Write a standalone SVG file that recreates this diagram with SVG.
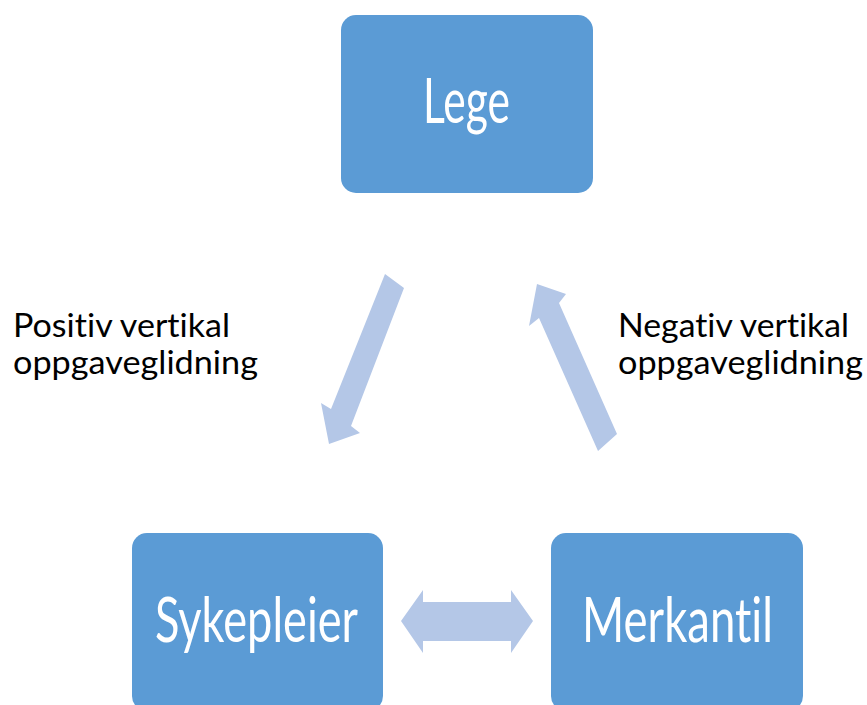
<svg xmlns="http://www.w3.org/2000/svg" width="867" height="705" viewBox="0 0 867 705">
<style>
.box{fill:#5B9BD5;}
.bt{font-family:Lato,"Open Sans","Liberation Sans",sans-serif;font-size:61px;fill:#FFFFFF;text-anchor:middle;font-variant-ligatures:none;}
.lbl{font-family:Lato,"Open Sans","Liberation Sans",sans-serif;font-size:33px;fill:#000000;font-variant-ligatures:none;}
.arr{fill:#B4C7E7;}
</style>
<rect width="867" height="705" fill="#FFFFFF"/>
<g id="lege">
<rect class="box" x="341" y="15" width="252" height="178" rx="15" ry="15"/>
<text class="bt" x="466.5" y="123" textLength="87" lengthAdjust="spacingAndGlyphs">Lege</text>
</g>
<g id="sykepleier">
<rect class="box" x="132" y="533" width="251" height="178" rx="15" ry="15"/>
<text class="bt" x="256.5" y="642" textLength="203" lengthAdjust="spacingAndGlyphs">Sykepleier</text>
</g>
<g id="merkantil">
<rect class="box" x="551" y="533" width="252" height="178" rx="15" ry="15"/>
<text class="bt" x="677.5" y="642" textLength="191" lengthAdjust="spacingAndGlyphs">Merkantil</text>
</g>
<g id="connectors">
<polygon class="arr" points="385,274 404,288 351,426 360,433 329,444 321,403 331,409"/>
<polygon class="arr" points="537,284 566,294 559,303 617,434 598,451 539,318 529,326"/>
<polygon class="arr" points="401,621 423,590 423,602 511,602 511,590 533,621 511,653 511,641 423,641 423,653"/>
</g>
<g id="labels">
<text class="lbl" x="13" y="337" textLength="217" lengthAdjust="spacingAndGlyphs">Positiv vertikal</text>
<text class="lbl" x="13" y="374" textLength="245" lengthAdjust="spacingAndGlyphs">oppgaveglidning</text>
<text class="lbl" x="618" y="337" textLength="231" lengthAdjust="spacingAndGlyphs">Negativ vertikal</text>
<text class="lbl" x="618" y="374" textLength="245" lengthAdjust="spacingAndGlyphs">oppgaveglidning</text>
</g>
</svg>
